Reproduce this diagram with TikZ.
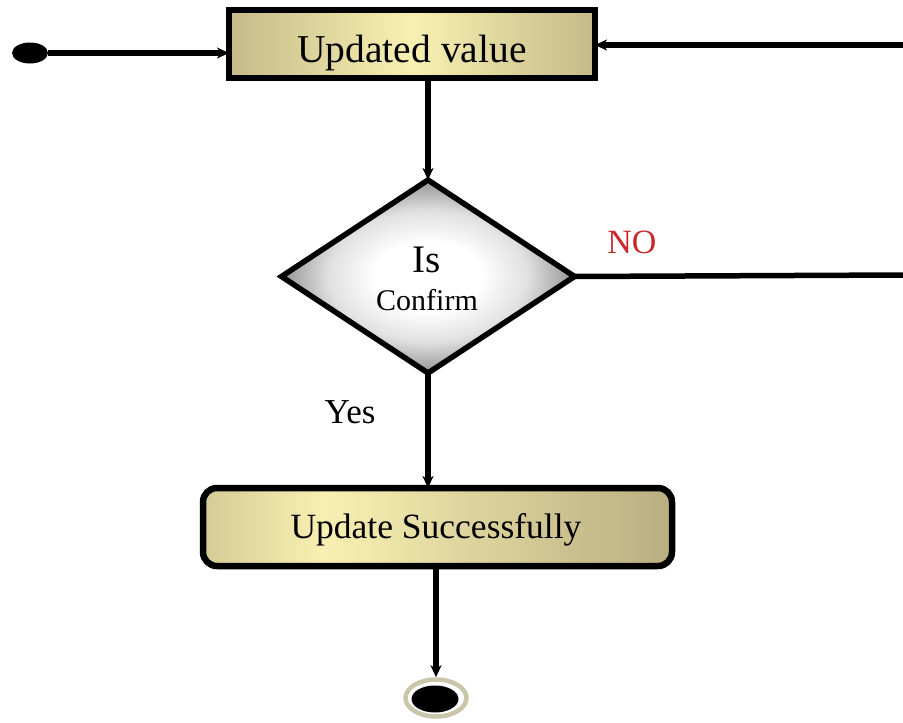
\documentclass[tikz,border=0pt]{standalone}
\usepackage{fontspec}
\setmainfont{Liberation Serif}
\usetikzlibrary{shapes.geometric,arrows.meta}

\definecolor{khdark}{HTML}{928560}
\definecolor{khmid}{HTML}{C4BA8A}
\definecolor{khlight}{HTML}{F8F0B2}
\definecolor{ringcol}{HTML}{C9C6A9}
\definecolor{nored}{HTML}{C8282C}

% khaki-to-cream fills for the two action boxes
\pgfdeclarehorizontalshading{topfill}{100bp}{%
  color(0bp)=(khdark); color(50bp)=(khlight); color(100bp)=(khdark)}
\pgfdeclarehorizontalshading{lowfill}{100bp}{%
  color(0bp)=(khdark); color(38bp)=(khlight); color(68bp)=(khmid); color(100bp)=(khdark)}
% white centre fading to grey at the corners of the decision
\pgfdeclareradialshading{decfill}{\pgfpoint{0bp}{0bp}}{%
  color(0bp)=(white); color(9bp)=(white); color(17bp)=(black!12); color(25bp)=(black!42); color(50bp)=(black!42)}

\tikzset{
  flow/.style={line width=5.5pt, draw=black},
  arrowed/.style={flow, -{Stealth[length=12pt,width=11pt,inset=3.5pt]}},
  action/.style={draw=black, line width=6.5pt, inner sep=0pt, outer sep=0pt},
  decision/.style={diamond, draw=black, line width=5.5pt, inner sep=0pt, outer sep=0pt,
    shading=decfill},
  lbl/.style={anchor=base, inner sep=0pt},
}

\begin{document}
\begin{tikzpicture}[x=1pt, y=-1pt]
  \useasboundingbox (0,0) rectangle (903,723);

  % start state
  \node[ellipse, fill=black, minimum width=36pt, minimum height=21pt, inner sep=0pt] (start) at (30,53) {};

  % first action
  \node[action, shading=topfill, minimum width=366pt, minimum height=68pt] (upd) at (412,44) {};
  \node[lbl, font=\fontsize{39.5}{41}\selectfont] (updtxt) at (412,62) {Updated value};

  % decision
  \node[decision, minimum width=293pt, minimum height=193pt] (dia) at (428,276.5) {};
  \node[lbl, font=\fontsize{39}{41}\selectfont] (istxt) at (427,272) {Is};
  \node[lbl, font=\fontsize{30}{32}\selectfont] (conftxt) at (427,310) {Confirm};

  % second action
  \node[action, rounded corners=14pt, shading=lowfill, minimum width=469pt, minimum height=78pt] (low) at (437.5,527) {};
  \node[lbl, font=\fontsize{35.5}{37}\selectfont] (lowtxt) at (436,538) {Update Successfully};

  % final state
  \node[ellipse, draw=ringcol, fill=white, line width=4.5pt, minimum width=61pt, minimum height=37pt, inner sep=0pt] (end) at (436,698) {};
  \node[ellipse, fill=black, minimum width=47pt, minimum height=27pt, inner sep=0pt] (endcore) at (435,699) {};

  % loop coordinates at the right margin
  \coordinate (loopout) at (903,275);
  \coordinate (loopin) at (903,45);

  % connectors
  \draw[arrowed] (start.east) -- (start -| upd.west);
  \draw[arrowed] (loopin) -- (loopin -| upd.east);
  \draw[arrowed] (upd.south -| dia.north) -- (dia.north);
  \draw[flow] (dia.east) -- (loopout);
  \draw[arrowed] (dia.south) -- (dia.south |- low.north);
  \draw[arrowed] (low.south -| end.north) -- (end.north);

  % guard labels
  \node[lbl, text=nored, font=\fontsize{34}{36}\selectfont] (no) at (632,253) {NO};
  \node[lbl, font=\fontsize{35}{37}\selectfont] (yes) at (350,423) {Yes};
\end{tikzpicture}
\end{document}
